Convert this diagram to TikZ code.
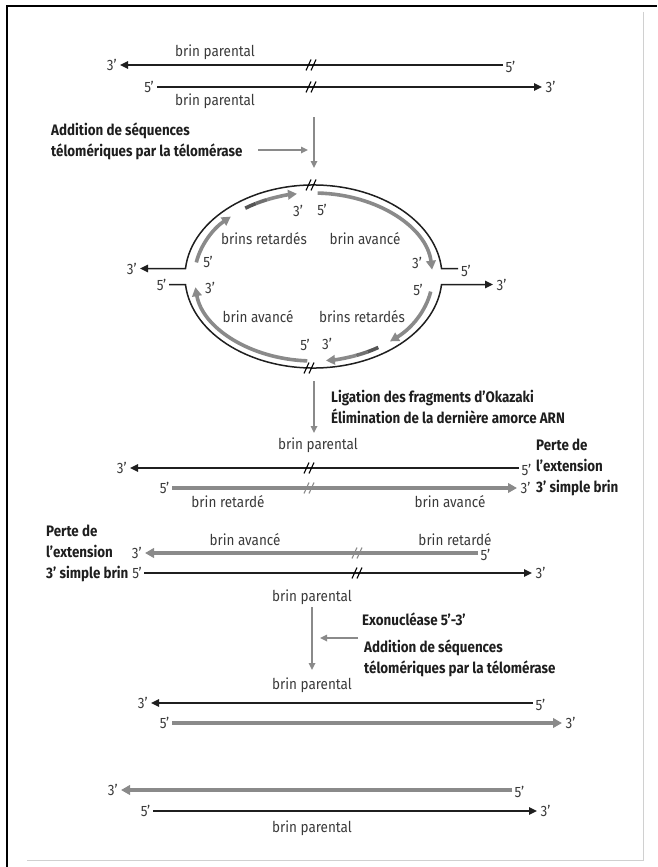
\documentclass[tikz,border=0pt]{standalone}
\usepackage{fontspec}
\setmainfont{Fira Sans}[FakeStretch=0.9]
\newfontfamily\annf{Fira Sans}[FakeStretch=0.88]
\usetikzlibrary{arrows.meta,positioning}
\definecolor{labc}{HTML}{3A3A3A}
\definecolor{annc}{HTML}{1E1E1E}
\definecolor{grc}{HTML}{8A8A8A}
\definecolor{grdark}{HTML}{555555}
\definecolor{grmid}{HTML}{707070}
\definecolor{framegr}{HTML}{D0D0D0}
\begin{document}
\begin{tikzpicture}[x=1pt,y=1pt,
  blk/.style={draw=black!88, line width=1.5pt},
  blkarr/.style={blk, -{Triangle[length=8pt,width=7.5pt]}},
  gthick/.style={draw=grc, line width=3.6pt},
  gthickarr/.style={gthick, -{Triangle[length=9pt,width=9.5pt]}},
  proc/.style={draw=grc, line width=1.6pt, -{Triangle[length=7pt,width=6.5pt]}},
  labl/.style={text=labc, font=\fontsize{15}{17}\selectfont, inner sep=0pt},
  endl/.style={labl, inner sep=1.5pt},
  annot/.style={text=annc, font=\annf\bfseries\fontsize{15.2}{21}\selectfont, align=left, inner sep=0pt, anchor=west},
  brk/.pic={\draw[pic actions, line width=1.1pt] (-6,-5.5)--(-1,5.5) (-1,-5.5)--(4,5.5);}
]
\useasboundingbox (0,0) rectangle (657,-867);
% frame
\draw[black, line width=2.2pt] (6,-6) -- (657,-6);
\draw[black, line width=2.5pt] (7,-6) -- (7,-867);
\draw[framegr, line width=1pt] (643,-12) -- (643,-860) -- (27,-860);

% ---------- section 1
\coordinate (a1L) at (120,-65); \coordinate (a1R) at (503,-65);
\coordinate (a2L) at (157,-87); \coordinate (a2R) at (542,-87);
\draw[blkarr] (a1R) -- (a1L);
\draw[blkarr] (a2L) -- (a2R);
\node[endl, left=1.5pt of a1L] (a1l) {3’};
\node[endl, right=1pt of a1R, yshift=-1.5pt] (a1r) {5’};
\node[endl, left=1.5pt of a2L] (a2l) {5’};
\node[endl, right=2pt of a2R] (a2r) {3’};
\node[labl] (p1) at (215,-52) {brin parental};
\node[labl] (p2) at (215,-101) {brin parental};
\pic[draw=black] at (312,-65) {brk};
\pic[draw=black] at (312,-87) {brk};

\node[annot] (ann1) at (51,-141) {Addition de séquences\\télomériques par la télomérase};
\coordinate (v1s) at (314,-117); \coordinate (v1e) at (314,-168);
\draw[proc] (v1s) -- (v1e);
\coordinate (h1s) at (258,-150); \coordinate (h1e) at (308,-150);
\draw[proc] (h1s) -- (h1e);

% ---------- section 2 : replication bubble
\coordinate (E) at (313.5,-276.5);
\coordinate (Ei) at (313.5,-277);
\coordinate (o1) at (140,-268.5); \coordinate (o2) at (458,-268.5);
\coordinate (o3) at (169,-284.5); \coordinate (o4) at (493,-284.5);
\draw[blk, {Triangle[length=8pt,width=7.5pt]}-] (o1) -- (185.5,-268.5)
   arc[start angle=175, end angle=5, x radius=128.5, y radius=91.5] -- (o2);
\draw[blk, -{Triangle[length=8pt,width=7.5pt]}] (o3) -- (185.5,-284.5)
   arc[start angle=185, end angle=355, x radius=128.5, y radius=91.5] -- (o4);
\node[endl, left=1.5pt of o1] (o1l) {3’};
\node[endl, right=1.5pt of o2, yshift=-2pt] (o2l) {5’};
\node[endl, left=1pt of o3] (o3l) {5’};
\node[endl, right=2pt of o4] (o4l) {3’};
\pic[draw=black] at (312,-185) {brk};
\pic[draw=black] at (310,-368) {brk};

% leading strand top right
\draw[gthickarr] (Ei) ++(88:119 and 84) arc[start angle=88, end angle=5, x radius=119, y radius=84];
% lagging top left
\draw[gthickarr] (Ei) ++(170:119 and 84) arc[start angle=170, end angle=134, x radius=119, y radius=84];
\draw[gthick, draw=grdark] (Ei) ++(125:119 and 84) arc[start angle=125, end angle=119, x radius=119, y radius=84];
\draw[gthick, draw=grmid] (Ei) ++(119:119 and 84) arc[start angle=119, end angle=113, x radius=119, y radius=84];
\draw[gthickarr] (Ei) ++(113:119 and 84) arc[start angle=113, end angle=98, x radius=119, y radius=84];
% leading bottom left
\draw[gthickarr] (Ei) ++(267:119 and 84) arc[start angle=267, end angle=187, x radius=119, y radius=84];
% lagging bottom right
\draw[gthickarr] (Ei) ++(-10:119 and 84) arc[start angle=-10, end angle=-50, x radius=119, y radius=84];
\draw[gthick, draw=grdark] (Ei) ++(-57:119 and 84) arc[start angle=-57, end angle=-63, x radius=119, y radius=84];
\draw[gthick, draw=grmid] (Ei) ++(-63:119 and 84) arc[start angle=-63, end angle=-69, x radius=119, y radius=84];
\draw[gthickarr] (Ei) ++(-69:119 and 84) arc[start angle=-69, end angle=-84, x radius=119, y radius=84];

\node[labl] (i1) at (298,-211) {3’};
\node[labl] (i2) at (322,-210) {5’};
\node[labl] (i3) at (208,-262) {5’};
\node[labl] (i4) at (210,-288) {3’};
\node[labl] (i5) at (417,-263) {3’};
\node[labl] (i6) at (418,-290) {5’};
\node[labl] (i7) at (305,-345) {5’};
\node[labl] (i8) at (327,-344) {3’};
\node[labl] (b1) at (264,-239) {brins retardés};
\node[labl] (b2) at (365,-239) {brin avancé};
\node[labl] (b3) at (258,-317) {brin avancé};
\node[labl] (b4) at (362,-317) {brins retardés};

% ---------- section 3
\coordinate (v2s) at (314,-381); \coordinate (v2e) at (314,-433);
\draw[proc] (v2s) -- (v2e);
\node[annot] (ann2) at (331,-406.5) {Ligation des fragments d’Okazaki\\Élimination de la dernière amorce ARN};
\node[labl] (p3) at (318,-445) {brin parental};
\coordinate (c1L) at (130,-468); \coordinate (c1R) at (519,-468);
\coordinate (c2L) at (172,-488); \coordinate (c2R) at (517,-488);
\draw[blkarr] (c1R) -- (c1L);
\draw[gthickarr] (c2L) -- (c2R);
\node[endl, left=1.5pt of c1L] (c1l) {3’};
\node[endl, right=1pt of c1R, yshift=-1.5pt] (c1r) {5’};
\node[endl, left=1pt of c2L] (c2l) {5’};
\node[endl, right=2pt of c2R] (c2r) {3’};
\pic[draw=black] at (310,-468) {brk};
\pic[draw=grc, line width=2pt] at (310,-488) {brk};
\node[labl] (r1) at (228,-502) {brin retardé};
\node[labl] (r2) at (450,-502) {brin avancé};
\node[annot] (ann3) at (536,-467.5) {Perte de\\l’extension\\3’ simple brin};

% ---------- section 4
\node[annot] (ann4) at (46,-553) {Perte de\\l’extension\\3’ simple brin};
\coordinate (d1L) at (145,-553); \coordinate (d1R) at (478,-553);
\coordinate (d2L) at (144,-573); \coordinate (d2R) at (532,-573);
\draw[gthickarr] (d1R) -- (d1L);
\draw[blkarr] (d2L) -- (d2R);
\node[endl, left=0.5pt of d2L] (d2l) {5’};
\node[endl, left=1.5pt of d1L] (d1l) {3’};
\node[endl, right=1pt of d1R, yshift=-2pt] (d1r) {5’};
\node[endl, right=2pt of d2R] (d2r) {3’};
\pic[draw=grc] at (358,-553) {brk};
\pic[draw=black] at (358,-573) {brk};
\node[labl] (r3) at (245,-540) {brin avancé};
\node[labl] (r4) at (455,-540) {brin retardé};
\node[labl] (p4) at (312,-597) {brin parental};
\coordinate (v3s) at (312,-607); \coordinate (v3e) at (312,-670);
\draw[proc] (v3s) -- (v3e);
\coordinate (h3s) at (358,-638); \coordinate (h3e) at (320,-638);
\draw[proc] (h3s) -- (h3e);
\node[annot] (ann5) at (362,-619) {Exonucléase 5’-3’};
\node[annot] (ann6) at (364,-658.5) {Addition de séquences\\télomériques par la télomérase};

% ---------- section 5
\node[labl] (p5) at (312,-685) {brin parental};
\coordinate (e1L) at (151,-703); \coordinate (e1R) at (533,-703);
\coordinate (e2L) at (172,-723); \coordinate (e2R) at (562,-723);
\draw[blkarr] (e1R) -- (e1L);
\draw[gthickarr] (e2L) -- (e2R);
\node[endl, left=1.5pt of e1L] (e1l) {3’};
\node[endl, right=1pt of e1R, yshift=-1.5pt] (e1r) {5’};
\node[endl, left=1pt of e2L] (e2l) {5’};
\node[endl, right=2pt of e2R] (e2r) {3’};

% ---------- section 6
\coordinate (f1L) at (121,-790); \coordinate (f1R) at (512,-790);
\coordinate (f2L) at (153,-811); \coordinate (f2R) at (537,-811);
\draw[gthickarr] (f1R) -- (f1L);
\draw[blkarr] (f2L) -- (f2R);
\node[endl, left=1.5pt of f1L] (f1l) {3’};
\node[endl, right=1pt of f1R, yshift=-1.5pt] (f1r) {5’};
\node[endl, left=1pt of f2L] (f2l) {5’};
\node[endl, right=2pt of f2R] (f2r) {3’};
\node[labl] (p6) at (312,-828) {brin parental};
\end{tikzpicture}
\end{document}
